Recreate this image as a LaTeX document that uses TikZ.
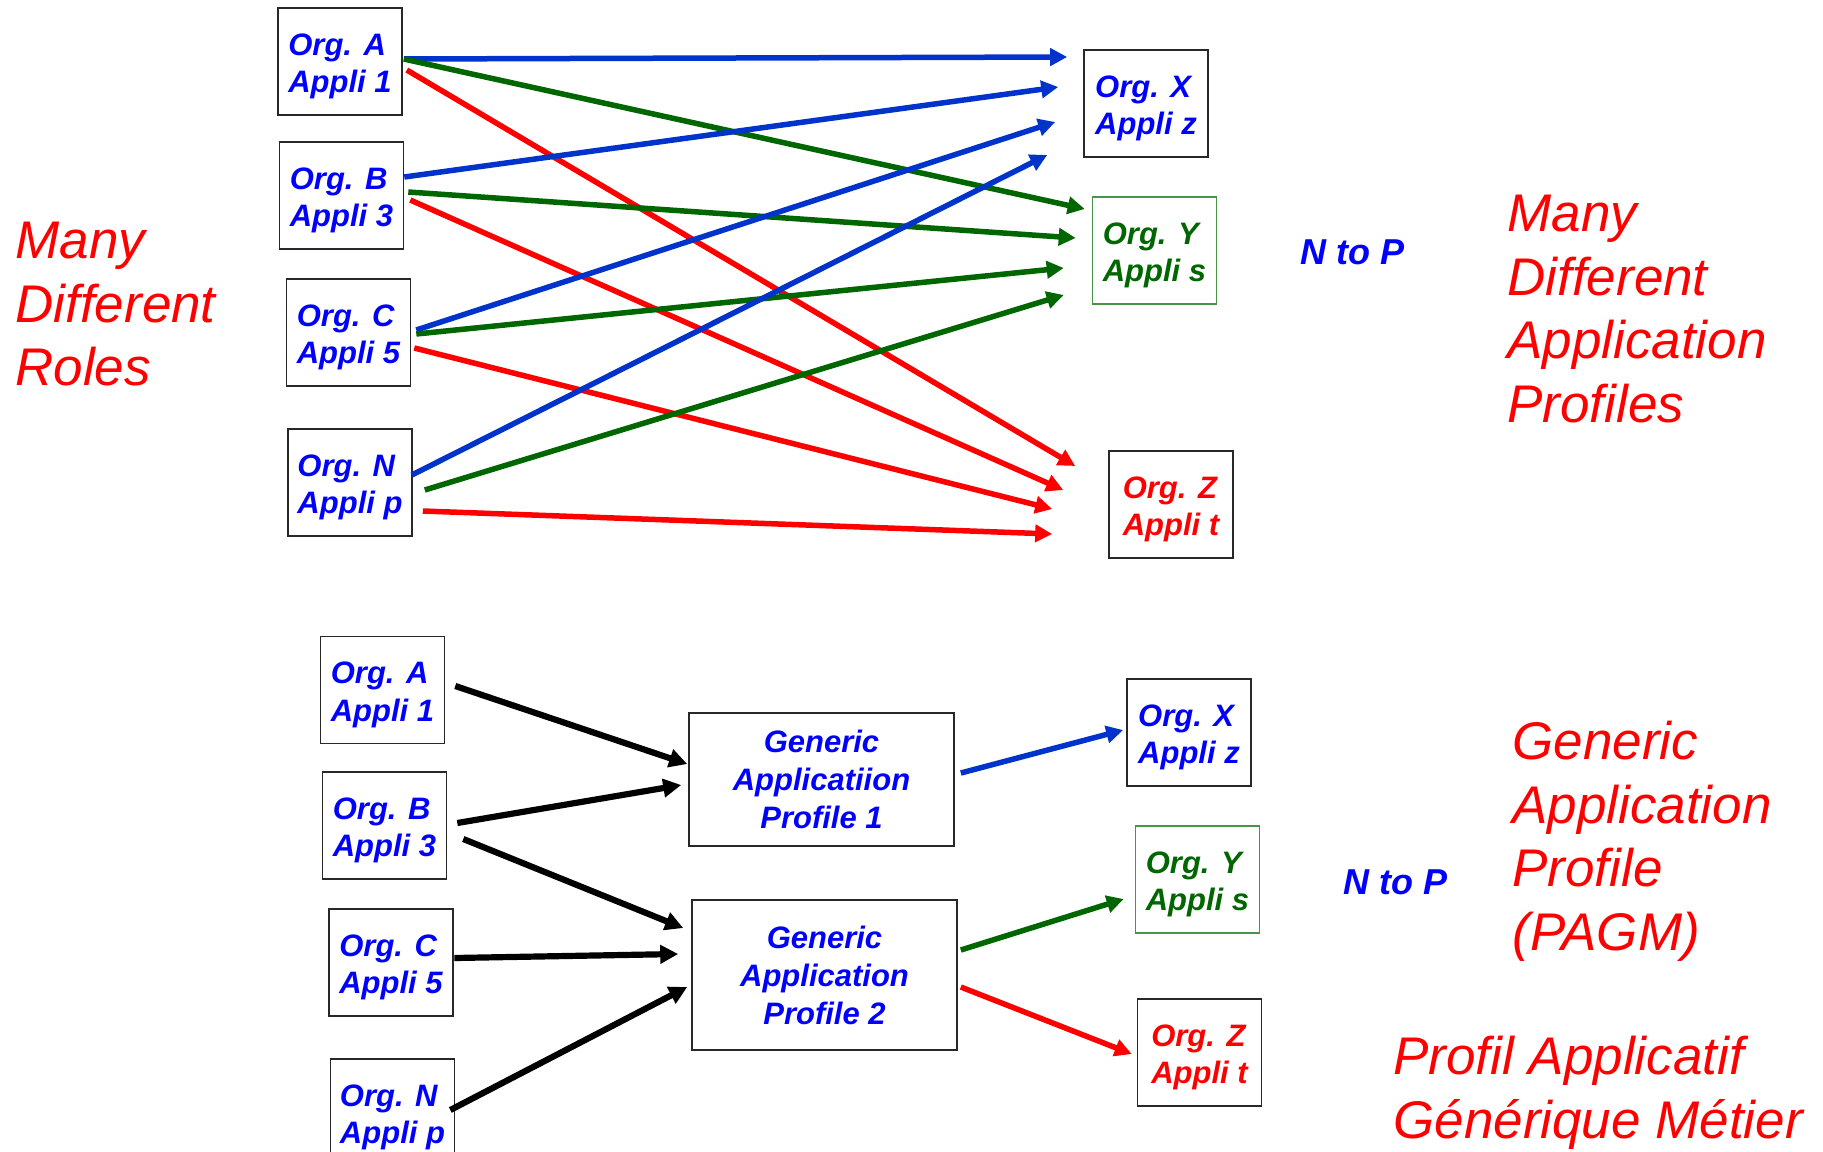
\documentclass[tikz,border=0pt]{standalone}
\usepackage{fontspec}
\setmainfont{Liberation Sans}
\usetikzlibrary{arrows.meta,calc}
\definecolor{txtblue}{RGB}{0,0,255}
\definecolor{lnblue}{RGB}{0,51,204}
\definecolor{dgreen}{RGB}{0,102,0}
\definecolor{boxgreen}{RGB}{70,150,70}
\definecolor{rred}{RGB}{255,0,0}
\definecolor{frame}{RGB}{40,40,40}
% two-line label of an organisation box, with a strut that sets the first line lower
\newcommand\orglabel[2]{\rule{0pt}{15.5pt}#1\\#2}

\begin{document}
\begin{tikzpicture}[x=0.5pt,y=-0.5pt,
  orgbox/.style={draw=frame,line width=0.8pt,rectangle,inner sep=0pt,
    minimum width=62pt,minimum height=53.5pt,align=left,
    font=\fontsize{15.5pt}{18.75pt}\selectfont\bfseries\itshape,text=txtblue},
  genbox/.style={draw=frame,line width=0.8pt,rectangle,inner sep=0pt,
    minimum width=132.5pt,align=center,
    font=\fontsize{15.5pt}{19pt}\selectfont\bfseries\itshape,text=txtblue},
  bigred/.style={anchor=north west,inner sep=0pt,align=left,text=rred,
    font=\fontsize{26.5pt}{31.75pt}\selectfont\itshape},
  ntop/.style={anchor=north west,inner sep=0pt,text=txtblue,
    font=\fontsize{18pt}{21pt}\selectfont\bfseries\itshape},
  tip/.style={-{Triangle[length=8.5pt,width=8.5pt]}},
  bl/.style={tip,line width=2.75pt,draw=lnblue},
  gr/.style={tip,line width=2.75pt,draw=dgreen},
  rd/.style={tip,line width=2.75pt,draw=rred},
  bk/.style={line width=3.1pt,draw=black,-{Triangle[length=9pt,width=9pt]}}]

\useasboundingbox (0,0) rectangle (1823,1151);

% ---------- many-to-many mapping ----------
\node[orgbox] (oA) at (340,61.5)   {\orglabel{Org. A}{Appli 1}};
\node[orgbox] (oB) at (341.5,195.5) {\orglabel{Org. B}{Appli 3}};
\node[orgbox] (oC) at (348.5,332.5) {\orglabel{Org. C}{Appli 5}};
\node[orgbox] (oN) at (350,482.5)  {\orglabel{Org. N}{Appli p}};

\node[orgbox] (oX) at (1146,103.5) {\orglabel{Org. X}{Appli z}};
\node[orgbox,draw=boxgreen,text=dgreen] (oY) at (1154.5,250.5) {\orglabel{Org. Y}{Appli s}};
\node[orgbox,text=rred] (oZ) at (1171,504.5) {\orglabel{Org. Z}{Appli t}};

\draw[bl] ($(oA.east)+(1,-2.5)$)  -- ($(oX.west)+(-16,-46.5)$);
\draw[gr] ($(oA.east)+(1,-2.5)$)  -- ($(oY.west)+(-7,-41.5)$);
\draw[rd] ($(oA.east)+(4,8.5)$)   -- ($(oZ.west)+(-33,-38.5)$);

\draw[bl] ($(oB.east)+(0,-18.5)$) -- ($(oX.west)+(-25,-16.5)$);
\draw[gr] ($(oB.east)+(4,-3.5)$)  -- ($(oY.west)+(-16,-12.5)$);
\draw[rd] ($(oB.east)+(6,4.5)$)   -- ($(oZ.west)+(-45,-14.5)$);

\draw[bl] ($(oC.east)+(5,-2.5)$)  -- ($(oX.west)+(-28,18.5)$);
\draw[gr] ($(oC.east)+(5,1.5)$)   -- ($(oY.west)+(-28,17.5)$);
\draw[rd] ($(oC.east)+(3,15.5)$)  -- ($(oZ.west)+(-56,4.5)$);

\draw[bl] ($(oN.east)+(-1,-7.5)$) -- ($(oX.west)+(-36,51.5)$);
\draw[gr] ($(oN.east)+(12,7.5)$)  -- ($(oY.west)+(-28,44.5)$);
\draw[rd] ($(oN.east)+(10,28.5)$) -- ($(oZ.west)+(-56,29.5)$);

\node[bigred] (rolesL) at (15,222) {Many\\Different\\Roles};
\node[ntop] (ntopA) at (1300,239) {N to P};
\node[bigred] (profR) at (1507,195) {Many\\Different\\Application\\Profiles};

% ---------- mapping through generic profiles ----------
\node[orgbox] (bA) at (382.5,690)   {\orglabel{Org. A}{Appli 1}};
\node[orgbox] (bB) at (384.5,825.5) {\orglabel{Org. B}{Appli 3}};
\node[orgbox] (bC) at (391,962.5)   {\orglabel{Org. C}{Appli 5}};
\node[orgbox] (bN) at (392.5,1112.5) {\orglabel{Org. N}{Appli p}};

\node[genbox,minimum height=66.5pt] (g1) at (821.5,779.5) {Generic\\Applicatiion\\Profile 1};
\node[genbox,minimum height=75pt] (g2) at (824.5,975) {Generic\\Application\\Profile 2};

\node[orgbox] (bX) at (1189,732.5) {\orglabel{Org. X}{Appli z}};
\node[orgbox,draw=boxgreen,text=dgreen] (bY) at (1197.5,879.5) {\orglabel{Org. Y}{Appli s}};
\node[orgbox,text=rred] (bZ) at (1199.5,1052.5) {\orglabel{Org. Z}{Appli t}};

\draw[bk] ($(bA.east)+(10,-4)$)   -- ($(g1.west)+(-1,-15.5)$);
\draw[bk] ($(bB.east)+(10,-2.5)$) -- ($(g1.west)+(-7,5.5)$);
\draw[bk] ($(bB.east)+(16,13.5)$) -- ($(g2.west)+(-8,-47)$);
\draw[bk] ($(bC.east)+(0.5,-4.5)$) -- ($(g2.west)+(-13,-21)$);
\draw[bk] ($(bN.east)+(-5,-2.5)$) -- ($(g2.west)+(-4,12)$);

\draw[bl] ($(g1.east)+(6,-6.5)$) -- ($(bX.west)+(-3,-2.5)$);
\draw[gr] ($(g2.east)+(3,-25)$)  -- ($(bY.west)+(-11,19.5)$);
\draw[rd] ($(g2.east)+(3,12)$)   -- ($(bZ.west)+(-5,1.5)$);

\node[ntop] (ntopB) at (1343,869) {N to P};
\node[bigred] (pagm) at (1512,721) {Generic\\Application\\Profile\\(PAGM)};
\node[bigred] (pagmfr) at (1393,1036) {Profil Applicatif\\Générique Métier};

\end{tikzpicture}
\end{document}
